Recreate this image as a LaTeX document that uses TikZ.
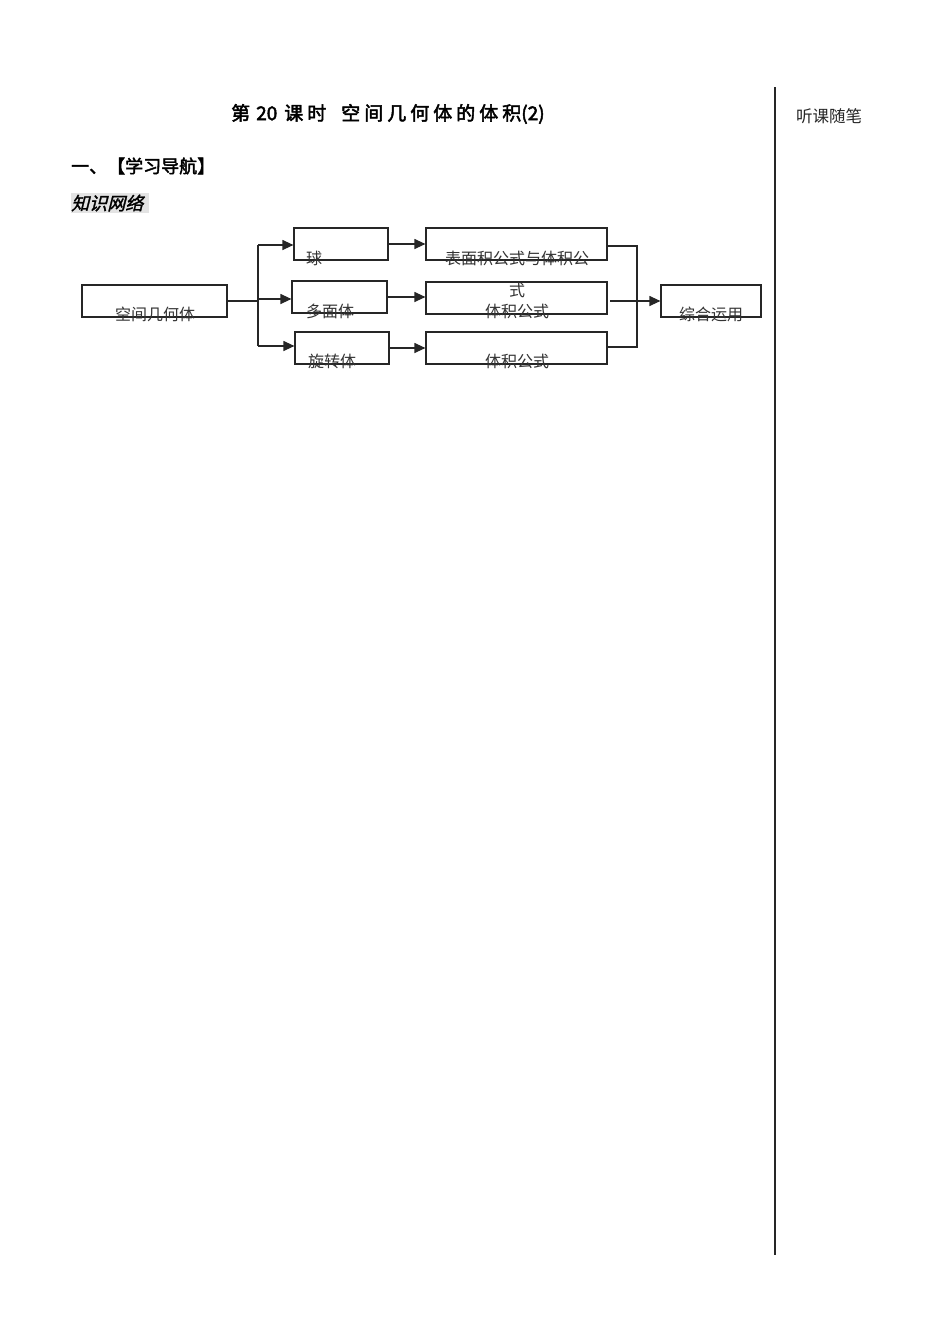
\documentclass[tikz,border=0pt]{standalone}
\usepackage{fontspec}
\usetikzlibrary{arrows.meta}
\newfontfamily\cjk{Noto Sans CJK SC}
\newfontfamily\cjkb{Noto Sans CJK SC}[FakeBold=2.2]
\newfontfamily\cjkslant{Noto Sans CJK SC}[FakeSlant=0.25, FakeBold=1.5]
\newfontfamily\cjkbt{Noto Sans CJK SC}[FakeBold=2.5]
\newcommand\tsp{\hspace{4pt}}
\tikzset{
  box/.style={draw=black!85, line width=1.2pt, inner sep=0pt},
  boxtext/.style={inner sep=0pt, font=\cjk\fontsize{16}{18}\selectfont, text=black!80},
  conn/.style={draw=black!85, line width=1.2pt},
  arr/.style={conn, -{Triangle[length=11pt,width=10pt]}}
}
\begin{document}
\begin{tikzpicture}[x=1pt,y=-1pt]
\useasboundingbox[fill=white] (0,0) rectangle (950,1344);
% right column
\draw[line width=1.2pt, black!85] (775,87) coordinate (vtop) -- (775,1255) coordinate (vbot);
\node[inner sep=0pt, font=\cjk\fontsize{16.5}{18}\selectfont, text=black!85] (note) at (829,116) {听课随笔};
% title
\node[inner sep=0pt, anchor=west, font=\cjkbt\fontsize{19}{21}\selectfont] (title) at (231,114)
  {第\hspace{6pt}20\hspace{7pt}课\tsp 时\hspace{15pt}空\tsp 间\tsp 几\tsp 何\tsp 体\tsp 的\tsp 体\tsp 积(2)};
\node[inner sep=0pt, anchor=west, font=\cjkb\fontsize{18}{20}\selectfont] (sec) at (71,166) {一、【学习导航】};
\fill[black!11] (71,193) rectangle (149,213);
\node[inner sep=0pt, anchor=west, font=\cjkslant\fontsize{18}{20}\selectfont] (kn) at (71,203) {知识网络};
% boxes
\node[box, minimum width=145pt, minimum height=32pt] (kj) at (154.5,301) {};
\node[box, minimum width=94pt, minimum height=32pt] (qiu) at (341,244) {};
\node[box, minimum width=95pt, minimum height=32pt] (dmt) at (339.5,297) {};
\node[box, minimum width=94pt, minimum height=32pt] (xzt) at (342,348) {};
\node[box, minimum width=181pt, minimum height=32pt] (b1) at (516.5,244) {};
\node[box, minimum width=181pt, minimum height=32pt] (b2) at (516.5,298) {};
\node[box, minimum width=181pt, minimum height=32pt] (b3) at (516.5,348) {};
\node[box, minimum width=100pt, minimum height=32pt] (zh) at (711,301) {};
% box texts
\node[boxtext] (t-kj) at (155,314) {空间几何体};
\node[boxtext] (t-qiu) at (314,258) {球};
\node[boxtext] (t-dmt) at (330,311) {多面体};
\node[boxtext] (t-xzt) at (332,361) {旋转体};
\node[boxtext] (t-b1) at (517,258) {表面积公式与体积公};
\node[boxtext] (t-b1b) at (517,290) {式};
\node[boxtext] (t-b2) at (517,311) {体积公式};
\node[boxtext] (t-b3) at (517,361) {体积公式};
\node[boxtext] (t-zh) at (711,314) {综合运用};
% connectors
\coordinate (f1) at (258,245);
\coordinate (f2) at (258,299);
\coordinate (f3) at (258,346);
\draw[conn] (kj.east) -- (kj.east -| f2);
\draw[conn] (f1) -- (f3);
\draw[arr] (f1) -- (f1 -| qiu.west);
\draw[arr] (f2) -- (f2 -| dmt.west);
\draw[arr] (f3) -- (f3 -| xzt.west);
\draw[arr] (qiu.east) -- (qiu.east -| b1.west);
\draw[arr] (dmt.east) -- (dmt.east -| b2.west);
\draw[arr] (xzt.east) -- (xzt.east -| b3.west);
\coordinate (m1) at (637,246);
\coordinate (m3) at (637,347);
\coordinate (ms) at (610,301);
\draw[conn] (b1.east |- m1) -- (m1) -- (m3) -- (b3.east |- m3);
\draw[arr] (ms) -- (zh.west);
\end{tikzpicture}
\end{document}
